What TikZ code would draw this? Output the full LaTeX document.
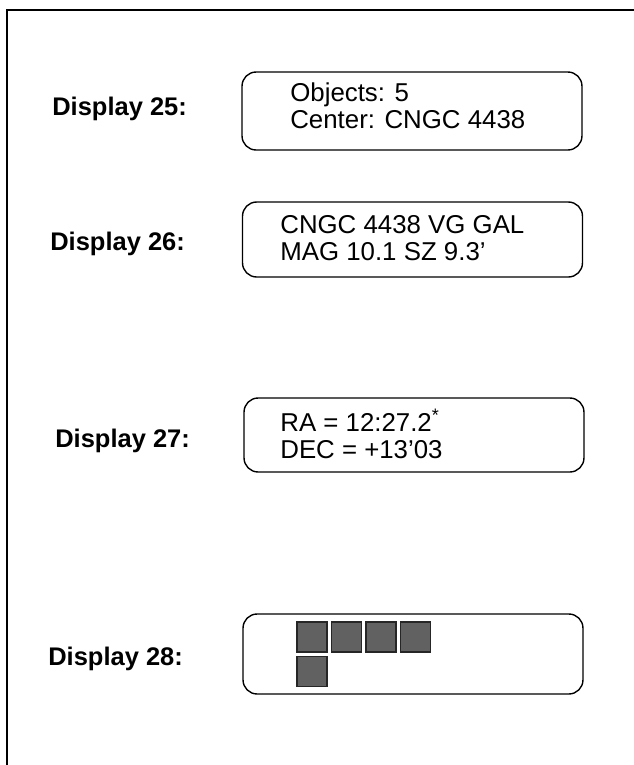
\documentclass[tikz,border=0pt]{standalone}
\usepackage{fontspec}
\setmainfont{Liberation Sans}
\usepackage{tikz}
\usetikzlibrary{positioning}

\begin{document}
\begin{tikzpicture}[x=0.02cm, y=-0.02cm,
    lbl/.style={font=\fontsize{14.5}{15}\selectfont\bfseries, inner sep=0pt},
    dispbox/.style={draw, line width=0.8pt, rounded corners=8pt, minimum width=6.8cm, minimum height=1.55cm, inner sep=0pt},
    boxtext/.style={font=\fontsize{14.7}{15.5}\selectfont, align=left, inner sep=0pt, anchor=west},
    cell/.style={draw=black!85, line width=0.6pt, fill=black!62, minimum size=0.6cm, inner sep=0pt}]
  \useasboundingbox (0,0) rectangle (634,765);
  % frame
  \draw[line width=1.2pt] (634,10) -- (7,10) -- (7,765);
  % display 25
  \node[lbl, anchor=west] (lab25) at (52,109) {Display 25:};
  \node[dispbox, minimum height=1.56cm] (box25) at (412,111) {};
  \node[boxtext] (txt25) at (290,106) {Objects: 5\\Center: CNGC 4438};
  % display 26
  \node[lbl, anchor=west] (lab26) at (50,244) {Display 26:};
  \node[dispbox, minimum height=1.5cm] (box26) at (412.5,239.5) {};
  \node[boxtext] (txt26) at (280,238) {CNGC 4438 VG GAL\\MAG 10.1 SZ 9.3'};
  % display 27
  \node[lbl, anchor=west] (lab27) at (55,441) {Display 27:};
  \node[dispbox, minimum height=1.48cm] (box27) at (414,435) {};
  \node[boxtext] (txt27) at (280,434) {RA = 12:27.2\textsuperscript{*}\\DEC = +13'03};
  % display 28
  \node[lbl, anchor=west] (lab28) at (48,659) {Display 28:};
  \node[dispbox, minimum height=1.6cm] (box28) at (413,654) {};
  \foreach \i in {0,...,3}
    \node[cell] (cell\i) at (312+34.5*\i,637) {};
  \node[cell, below=0.06cm of cell0] (cell4) {};
\end{tikzpicture}
\end{document}
